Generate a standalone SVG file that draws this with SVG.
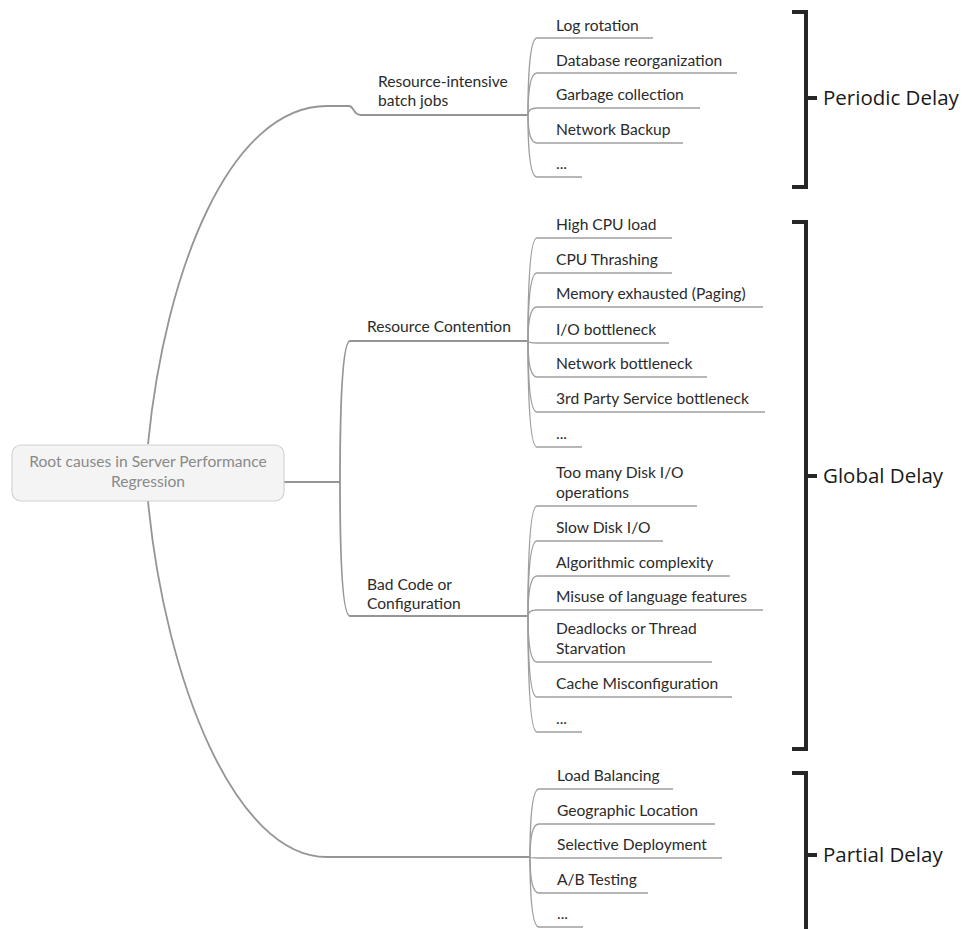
<svg xmlns="http://www.w3.org/2000/svg" width="968" height="929" viewBox="0 0 968 929">
<style>
.lf{font-family:Lato,"Open Sans","Liberation Sans",sans-serif;font-size:15.6px;fill:#2b2b2b}
.br{font-family:Lato,"Open Sans","Liberation Sans",sans-serif;font-size:15.6px;fill:#2b2b2b}
.rt{font-family:Lato,"Open Sans","Liberation Sans",sans-serif;font-size:15.6px;fill:#8a8a8a}
.dl{font-family:"Open Sans","Noto Sans","Liberation Sans",sans-serif;font-size:20.5px;fill:#1a1a1a}
.c{fill:none;stroke:#9e9e9e;stroke-width:1.4}
.m{fill:none;stroke:#959595;stroke-width:1.8}
.bk{fill:none;stroke:#262626;stroke-width:4}
</style>
<rect width="968" height="929" fill="#ffffff"/>
<g id="connectors">
  <path class="m" d="M148,444 C165,270 230,106 327,106 L349,106 C354,106 353,115 361,115 L528,115" stroke-width="2.4"/>
  <path class="m" d="M148,501 C165,680 235,857 327,857 L530,857" stroke-width="2.4"/>
  <path class="m" d="M284,482 L340,482"/>
  <path class="m" d="M340,482 Q340,341 350,341 L528,341"/>
  <path class="m" d="M340,482 Q340,616 350,616 L528,616"/>
  <path class="c" d="M528,115 Q528,38 537,38 H653"/>
  <path class="c" d="M528,115 Q528,73 537,73 H737"/>
  <path class="c" d="M528,115 Q528,108 537,108 H700"/>
  <path class="c" d="M528,115 Q528,143 537,143 H683"/>
  <path class="c" d="M528,115 Q528,177 537,177 H582"/>
  <path class="c" d="M528,341 Q528,238 537,238 H672"/>
  <path class="c" d="M528,341 Q528,273 537,273 H672"/>
  <path class="c" d="M528,341 Q528,307 537,307 H763"/>
  <path class="c" d="M528,341 Q528,343 537,343 H669"/>
  <path class="c" d="M528,341 Q528,377 537,377 H707"/>
  <path class="c" d="M528,341 Q528,412 537,412 H765"/>
  <path class="c" d="M528,341 Q528,447 537,447 H582"/>
  <path class="c" d="M528,616 Q528,506 537,506 H697"/>
  <path class="c" d="M528,616 Q528,541 537,541 H663"/>
  <path class="c" d="M528,616 Q528,576 537,576 H730"/>
  <path class="c" d="M528,616 Q528,610 537,610 H763"/>
  <path class="c" d="M528,616 Q528,662 537,662 H712"/>
  <path class="c" d="M528,616 Q528,697 537,697 H732"/>
  <path class="c" d="M528,616 Q528,732 537,732 H582"/>
  <path class="c" d="M530,857 Q530,789 539,789 H673"/>
  <path class="c" d="M530,857 Q530,824 539,824 H715"/>
  <path class="c" d="M530,857 Q530,858 539,858 H722"/>
  <path class="c" d="M530,857 Q530,893 539,893 H648"/>
  <path class="c" d="M530,857 Q530,927 539,927 H583"/>
</g>
<g id="root">
  <rect x="12" y="445" width="272" height="56" rx="9" fill="#f4f4f4" stroke="#d2d2d2" stroke-width="1.2"/>
  <text class="rt" x="148" y="467" text-anchor="middle">Root causes in Server Performance</text>
  <text class="rt" x="148" y="487" text-anchor="middle">Regression</text>
</g>
<g id="batch"><text class="br" x="378" y="87">Resource-intensive</text><text class="br" x="378" y="106">batch jobs</text></g>
<g id="contention"><text class="br" x="367" y="332">Resource Contention</text></g>
<g id="badcode"><text class="br" x="367" y="590">Bad Code or</text><text class="br" x="367" y="609">Configuration</text></g>
<g id="leaf-log"><text class="lf" x="556" y="31">Log rotation</text></g>
<g id="leaf-db"><text class="lf" x="556" y="66">Database reorganization</text></g>
<g id="leaf-gc"><text class="lf" x="556" y="100">Garbage collection</text></g>
<g id="leaf-nb"><text class="lf" x="556" y="135">Network Backup</text></g>
<g id="leaf-e1"><text class="lf" x="556" y="169">...</text></g>
<g id="leaf-cpu"><text class="lf" x="556" y="230">High CPU load</text></g>
<g id="leaf-thr"><text class="lf" x="556" y="265">CPU Thrashing</text></g>
<g id="leaf-mem"><text class="lf" x="556" y="299">Memory exhausted (Paging)</text></g>
<g id="leaf-io"><text class="lf" x="556" y="335">I/O bottleneck</text></g>
<g id="leaf-net"><text class="lf" x="556" y="369">Network bottleneck</text></g>
<g id="leaf-3rd"><text class="lf" x="556" y="404">3rd Party Service bottleneck</text></g>
<g id="leaf-e2"><text class="lf" x="556" y="439">...</text></g>
<g id="leaf-disk"><text class="lf" x="556" y="478">Too many Disk I/O</text><text class="lf" x="556" y="498">operations</text></g>
<g id="leaf-slow"><text class="lf" x="556" y="533">Slow Disk I/O</text></g>
<g id="leaf-algo"><text class="lf" x="556" y="568">Algorithmic complexity</text></g>
<g id="leaf-misuse"><text class="lf" x="556" y="602">Misuse of language features</text></g>
<g id="leaf-dead"><text class="lf" x="556" y="634">Deadlocks or Thread</text><text class="lf" x="556" y="654">Starvation</text></g>
<g id="leaf-cache"><text class="lf" x="556" y="689">Cache Misconfiguration</text></g>
<g id="leaf-e3"><text class="lf" x="556" y="724">...</text></g>
<g id="leaf-lb"><text class="lf" x="557" y="781">Load Balancing</text></g>
<g id="leaf-geo"><text class="lf" x="557" y="816">Geographic Location</text></g>
<g id="leaf-sel"><text class="lf" x="557" y="850">Selective Deployment</text></g>
<g id="leaf-ab"><text class="lf" x="557" y="885">A/B Testing</text></g>
<g id="leaf-e4"><text class="lf" x="557" y="919">...</text></g>
<g id="periodic">
  <path class="bk" d="M792,12 H806 V187 H792 M806,98 H817"/>
  <text class="dl" x="823" y="105">Periodic Delay</text>
</g>
<g id="global">
  <path class="bk" d="M792,222 H806 V749 H792 M806,476 H817"/>
  <text class="dl" x="823" y="483">Global Delay</text>
</g>
<g id="partial">
  <path class="bk" d="M792,773 H806 V929 M806,855 H817"/>
  <text class="dl" x="823" y="862">Partial Delay</text>
</g>
</svg>
